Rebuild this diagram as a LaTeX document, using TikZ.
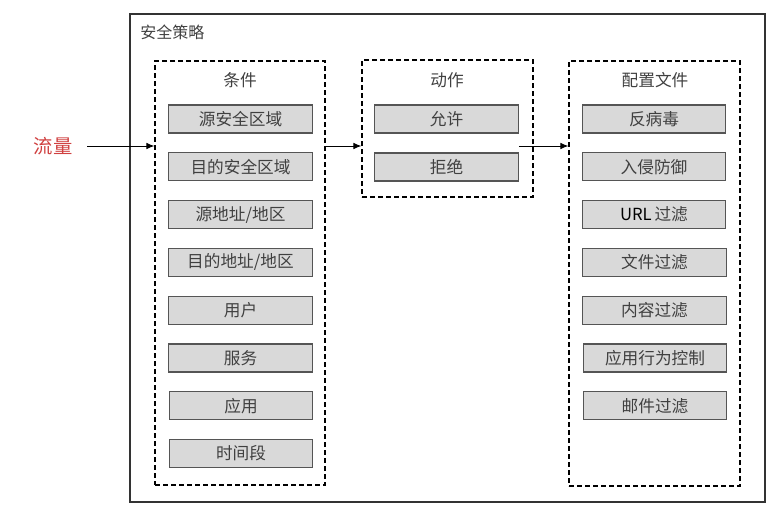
\documentclass[tikz,border=0pt]{standalone}
\usepackage{fontspec}
\newfontfamily\cjk{Noto Sans CJK SC}
\usetikzlibrary{arrows.meta}
\definecolor{txt}{HTML}{404040}
\definecolor{boxfill}{HTML}{D9D9D9}
\definecolor{boxline}{HTML}{555555}
\definecolor{flowred}{HTML}{D04040}
\tikzset{
  cbox/.style={draw=boxline, fill=boxfill, line width=0.9pt, inner sep=0pt,
    minimum width=107.5pt, minimum height=21pt, text=txt,
    font=\cjk\fontsize{12.5}{14}\selectfont},
  dbox/.style={draw=black, dashed, line width=0.9pt, dash pattern=on 3.5pt off 2.5pt, inner sep=0pt},
  ttl/.style={text=txt, font=\cjk\fontsize{12.5}{14}\selectfont, inner sep=0pt},
  arr/.style={-{Latex[length=6pt,width=5pt]}, line width=0.75pt, black}
}
\begin{document}
\begin{tikzpicture}[x=0.75pt,y=-0.75pt]
\useasboundingbox (0,0) rectangle (775,515);
% outer frame
\draw[draw=black!80, line width=1.1pt] (130,14) rectangle (765,502);
\node[ttl, anchor=west, font=\cjk\fontsize{12}{14}\selectfont] (policy) at (140,32) {安全策略};
% dashed groups
\node[dbox, minimum width=127.5pt, minimum height=318pt] (cond) at (240,273) {};
\node[dbox, minimum width=128.25pt, minimum height=102.75pt] (act) at (447.5,128.5) {};
\node[dbox, minimum width=128.25pt, minimum height=318.75pt] (prof) at (654.5,273.5) {};
% titles
\node[ttl] (tcond) at (240,80) {条件};
\node[ttl] (tact) at (447,80) {动作};
\node[ttl] (tprof) at (655,80) {配置文件};
% condition items
\node[cbox] (c1) at (240.5,119) {源安全区域};
\node[cbox] (c2) at (240.5,166.8) {目的安全区域};
\node[cbox] (c3) at (240.5,214.6) {源地址/地区};
\node[cbox] (c4) at (240.5,262.4) {目的地址/地区};
\node[cbox] (c5) at (240.5,310.2) {用户};
\node[cbox] (c6) at (240.5,358) {服务};
\node[cbox] (c7) at (241,405.8) {应用};
\node[cbox] (c8) at (241,453.6) {时间段};
% actions
\node[cbox] (a1) at (446.5,119) {允许};
\node[cbox] (a2) at (446.5,167) {拒绝};
% profiles
\node[cbox] (p1) at (654,119) {反病毒};
\node[cbox] (p2) at (654,166.8) {入侵防御};
\node[cbox] (p3) at (654,214.6) {\textcolor{black}{URL}\,过滤};
\node[cbox] (p4) at (654.5,262.4) {文件过滤};
\node[cbox] (p5) at (654.5,310.2) {内容过滤};
\node[cbox] (p6) at (655,358) {应用行为控制};
\node[cbox] (p7) at (655,405.8) {邮件过滤};
% flow
\node[text=flowred, font=\cjk\fontsize{14.5}{16}\selectfont, inner sep=0pt] (flow) at (53,146) {流量};
\draw[arr] ([xshift=11]flow.east) -- (flow.east -| cond.west);
\draw[arr] (flow.east -| cond.east) -- (flow.east -| act.west);
\draw[arr] (flow.east -| a1.east) -- (flow.east -| prof.west);
\end{tikzpicture}
\end{document}
